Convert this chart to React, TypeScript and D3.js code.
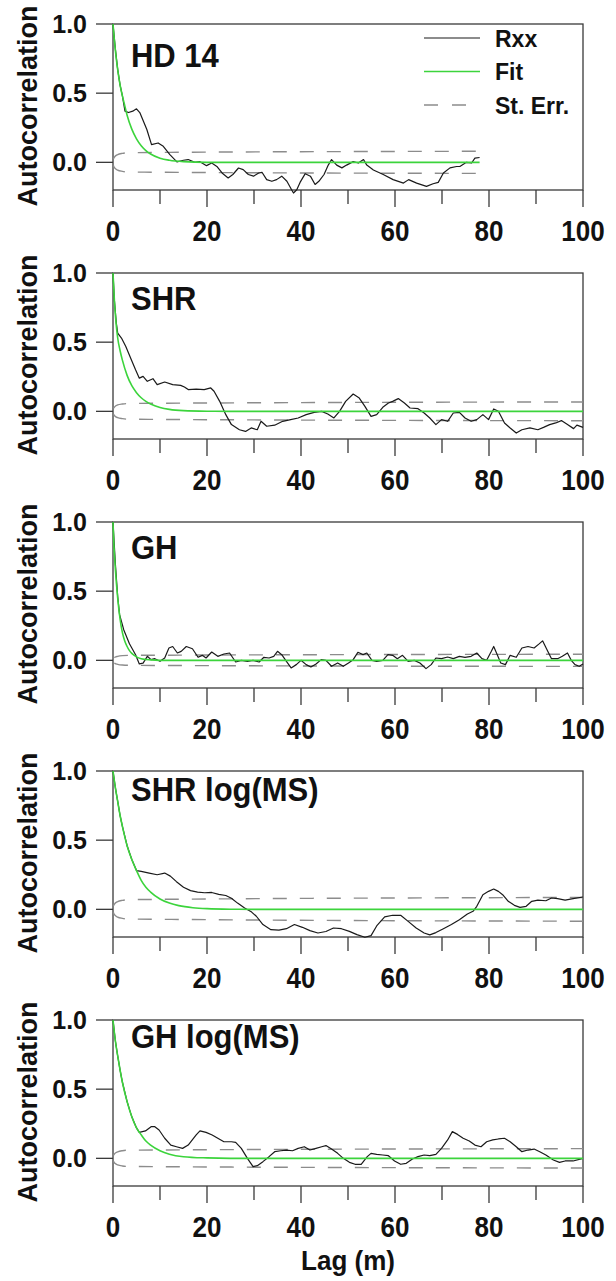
import React from "react";
import * as d3 from "d3";

// ---------- DATA ----------
const panelNames = ["HD 14", "SHR", "GH", "SHR log(MS)", "GH log(MS)"];
const xTicksMajor = [0, 20, 40, 60, 80, 100];
const xTicksMinor = [10, 30, 50, 70, 90];
const yTicks = [0, 0.5, 1.0];
const yTickLabels = ["0.0", "0.5", "1.0"];
const legendLabels = ["Rxx", "Fit", "St. Err."];
const xTitle = "Lag (m)";
const yTitle = "Autocorrelation";

// Rxx (lag, value) per panel
const rxxHD14: [number, number][] = [
  [0, 1], [0.5, 0.82], [1, 0.67], [1.5, 0.56], [2, 0.48], [2.55, 0.37], [3.3, 0.36], [4.2, 0.37], [5.0, 0.387], [5.7, 0.36],
  [7.2, 0.237], [8.2, 0.128], [9.6, 0.14], [10.7, 0.116], [12.1, 0.056], [13.6, 0.003], [15, 0.015], [16, 0.02], [17.4, 0.0],
  [18.5, 0.005], [19.9, -0.024], [21, -0.005], [22.1, -0.03], [23.2, -0.077], [24.5, -0.113], [25.5, -0.088], [26.7, -0.041],
  [27.7, -0.053], [28.8, -0.088], [29.9, -0.1], [31, -0.077], [31.7, -0.072], [32.7, -0.125], [33.8, -0.137], [34.8, -0.125],
  [35.9, -0.1], [37, -0.137], [38, -0.198], [38.4, -0.222], [39.1, -0.198], [39.8, -0.145], [40.9, -0.082], [42, -0.1],
  [43, -0.16], [43.8, -0.137], [44.9, -0.088], [45.8, -0.02], [46.5, 0.02], [47.6, -0.02], [48.7, -0.04], [49.7, -0.02],
  [51.1, 0.005], [52.2, -0.005], [53.3, 0.02], [54, -0.02], [55.4, -0.055], [57.5, -0.088], [59.6, -0.125], [61.8, -0.15],
  [62.9, -0.125], [64.6, -0.15], [66.7, -0.174], [68.1, -0.155], [69.2, -0.145], [70.3, -0.077], [71.7, -0.04], [73.1, -0.03],
  [73.8, -0.03], [75.2, 0.0], [76.3, -0.005], [77, 0.03], [78, 0.035],
];
const rxxSHR: [number, number][] = [
  [0, 1], [0.3, 0.8], [0.7, 0.64], [1.0, 0.566], [1.8, 0.53], [2.7, 0.47], [3.9, 0.373], [4.8, 0.3], [5.6, 0.24], [6.4, 0.253],
  [7.3, 0.217], [8.5, 0.236], [9.4, 0.193], [11, 0.212], [12.7, 0.193], [14.4, 0.188], [15.2, 0.176], [16, 0.157], [17.7, 0.161],
  [19.4, 0.157], [20.8, 0.169], [21.5, 0.145], [22.7, 0.072], [24, -0.024], [25.2, -0.096], [26.9, -0.133], [28.2, -0.145],
  [29.4, -0.12], [30.7, -0.133], [31.5, -0.072], [32.7, -0.108], [34.4, -0.1], [36.1, -0.072], [37.8, -0.06], [39.4, -0.048],
  [41.1, -0.024], [42.8, -0.007], [44.4, 0], [45.7, -0.019], [47, -0.048], [48.2, 0], [49.5, 0.072], [51.1, 0.125], [52.4, 0.096],
  [53.6, 0.036], [54.9, -0.036], [56.1, -0.024], [57.4, 0.029], [58.6, 0.06], [59.5, 0.072], [60.7, 0.092], [62, 0.06],
  [63.2, 0.024], [64.9, 0.019], [66.2, -0.012], [67.4, -0.048], [68.7, -0.096], [69.9, -0.06], [71.2, -0.072], [72.4, -0.012],
  [73.7, -0.007], [74.9, -0.048], [76.2, -0.072], [77.4, -0.06], [78.7, -0.024], [79.9, -0.06], [81, 0.017], [82, 0],
  [83.3, -0.084], [84.5, -0.12], [85.8, -0.157], [87, -0.133], [88.7, -0.12], [90.4, -0.133], [91.6, -0.116], [92.9, -0.096],
  [94.2, -0.084], [95.4, -0.067], [96.7, -0.096], [98, -0.125], [98.7, -0.1], [100, -0.116],
];
const rxxGH: [number, number][] = [
  [0, 1], [0.5, 0.7], [1, 0.46], [1.4, 0.33], [2.3, 0.22], [3.5, 0.12], [4.8, 0.04], [5.6, -0.026], [6.4, -0.02], [7.3, 0.029],
  [8.1, 0.005], [8.9, 0.012], [10, -0.007], [11, 0.017], [11.9, 0.089], [12.7, 0.1], [13.7, 0.053], [14.5, 0.065], [15.6, 0.1],
  [16.9, 0.084], [18.1, 0.022], [19, 0.036], [19.8, 0.017], [21, 0.06], [22.3, 0.029], [23.6, 0.046], [24.8, 0.053], [26.1, -0.012],
  [27.3, 0], [28.6, -0.007], [29.8, 0], [31.1, -0.012], [32.1, 0.022], [33.2, 0.017], [34.2, 0.029], [35, 0.065], [35.9, 0.041],
  [36.9, -0.007], [37.9, -0.055], [39, -0.031], [40, 0], [41.1, -0.031], [42.1, -0.048], [43.2, -0.026], [44.3, 0.005], [45.3, 0],
  [46.5, -0.043], [47.8, -0.019], [49, -0.043], [50.1, -0.019], [51.1, 0.005], [52.1, 0.058], [53.2, 0.041], [54, 0.053],
  [55.1, 0], [56.1, -0.007], [57.4, 0], [58.5, 0.041], [59.5, 0.036], [60.5, 0.012], [61.6, 0.036], [62.8, -0.007], [64.1, 0],
  [65.3, -0.019], [66.6, -0.06], [67.7, -0.031], [68.7, 0.017], [69.9, 0.012], [71.2, 0.024], [72.4, 0.012], [73.7, 0.029],
  [74.9, 0.022], [76.2, 0.029], [77.4, 0.053], [78.5, 0.012], [79.5, 0], [80.5, 0.065], [81, 0.1], [81.6, 0.053], [82.5, -0.019],
  [83.5, -0.031], [84.5, 0.036], [85.8, 0.022], [87, 0.089], [88.3, 0.1], [89.6, 0.089], [90.6, 0.117], [91.4, 0.141],
  [92.5, 0.065], [93.3, 0.012], [94.6, 0.012], [95.6, 0.029], [96.7, 0.053], [97.5, 0], [98.3, -0.031], [99.2, -0.043], [100, -0.026],
];
const rxxSHRlog: [number, number][] = [
  [0, 1], [0.5, 0.88], [1, 0.78], [1.5, 0.68], [2, 0.6], [3, 0.46], [4, 0.36], [5, 0.28], [6, 0.274], [7.7, 0.262], [9.4, 0.25],
  [11, 0.262], [12.2, 0.24], [13.5, 0.2], [15, 0.16], [16.5, 0.135], [18, 0.125], [19.5, 0.12], [21, 0.122], [22.5, 0.108],
  [24, 0.1], [25.2, 0.08], [26.5, 0.045], [28, 0.01], [29.5, -0.02], [30.5, -0.05], [31.9, -0.11], [33.6, -0.147], [35.3, -0.15],
  [36.9, -0.14], [38.6, -0.11], [40.3, -0.13], [41.9, -0.154], [43.6, -0.171], [45.3, -0.16], [46.9, -0.135], [48.6, -0.14],
  [50.3, -0.159], [51.9, -0.183], [53.6, -0.202], [54.9, -0.19], [56.1, -0.12], [57.8, -0.055], [59.5, -0.043], [61.2, -0.043],
  [62.8, -0.087], [64.5, -0.135], [66.2, -0.171], [67.4, -0.185], [68.7, -0.168], [70.3, -0.14], [72, -0.11], [73.7, -0.075],
  [75.4, -0.034], [76.6, -0.014], [77.4, 0.022], [78.7, 0.106], [79.9, 0.13], [81, 0.147], [82, 0.13], [82.9, 0.106],
  [84.1, 0.058], [85.4, 0.029], [86.6, 0.014], [87.9, 0.022], [89.1, 0.058], [90.4, 0.067], [92.1, 0.062], [93.3, 0.082],
  [94.6, 0.077], [96.2, 0.067], [97.9, 0.077], [100, 0.089],
];
const rxxGHlog: [number, number][] = [
  [0, 1], [0.5, 0.85], [1, 0.74], [1.5, 0.64], [2, 0.55], [3, 0.41], [4, 0.3], [5, 0.22], [5.6, 0.188], [6.9, 0.198], [8.1, 0.229],
  [8.9, 0.229], [9.8, 0.205], [11, 0.145], [12.3, 0.096], [13.5, 0.084], [14.8, 0.072], [16, 0.096], [17.7, 0.169], [18.5, 0.198],
  [19.8, 0.188], [21.1, 0.169], [22.3, 0.145], [23.6, 0.12], [25.2, 0.12], [26.1, 0.116], [27.3, 0.072], [28.6, 0], [29.8, -0.06],
  [30.7, -0.053], [31.9, -0.024], [33.2, 0.012], [34.4, 0.048], [35.7, 0.055], [36.9, 0.06], [38.2, 0.055], [39.4, 0.072],
  [40.7, 0.084], [41.9, 0.06], [43.2, 0.072], [44.4, 0.084], [45.3, 0.092], [46.5, 0.067], [47.8, 0.036], [49, 0], [50.3, -0.029],
  [51.5, -0.043], [52.8, -0.043], [54.1, 0.012], [54.9, 0.036], [56.1, 0.029], [57.4, 0.024], [58.6, 0.019], [59.9, -0.019],
  [61.2, -0.043], [62.4, -0.036], [63.7, -0.005], [64.9, 0.012], [66.2, 0.024], [67.4, 0.019], [68.7, 0.029], [69.9, 0.072],
  [71.2, 0.133], [72.2, 0.193], [73.3, 0.173], [74.5, 0.145], [75.8, 0.125], [77, 0.096], [78.3, 0.084], [79.5, 0.12],
  [80.8, 0.133], [82, 0.14], [83.3, 0.145], [84.5, 0.12], [85.8, 0.084], [87, 0.048], [88.3, 0.06], [89.6, 0.067], [90.8, 0.048],
  [92.1, 0.024], [93.7, -0.012], [95, -0.029], [96.2, -0.019], [97.9, -0.019], [100, 0],
];

// Fitted model (lag, value)
const fitHD14: [number, number][] = [
  [0, 1], [0.3, 0.88], [0.7, 0.75], [1, 0.67], [1.5, 0.56], [2, 0.48], [2.5, 0.41], [3, 0.34], [4, 0.24], [5, 0.17], [6, 0.12],
  [7, 0.085], [8, 0.06], [10, 0.03], [12, 0.015], [15, 0.005], [20, 0], [78, 0],
];
const fitSHR: [number, number][] = [
  [0, 1], [0.3, 0.8], [0.7, 0.62], [1, 0.53], [1.5, 0.44], [2, 0.37], [3, 0.26], [4, 0.185], [5, 0.135], [6, 0.098], [7, 0.072],
  [8, 0.053], [10, 0.028], [12, 0.014], [15, 0.005], [20, 0.001], [25, 0], [100, 0],
];
const fitGH: [number, number][] = [
  [0, 1], [0.2, 0.83], [0.5, 0.66], [1, 0.45], [1.5, 0.3], [2, 0.2], [2.5, 0.14], [3, 0.1], [3.5, 0.07], [4, 0.05], [5, 0.025],
  [6, 0.012], [8, 0.003], [10, 0], [100, 0],
];
const fitSHRlog: [number, number][] = [
  [0, 1], [0.5, 0.88], [1, 0.78], [1.5, 0.68], [2, 0.6], [3, 0.46], [4, 0.36], [5, 0.28], [6, 0.21], [7, 0.16], [8, 0.125],
  [10, 0.075], [12, 0.045], [14, 0.027], [17, 0.012], [20, 0.005], [25, 0.001], [30, 0], [100, 0],
];
const fitGHlog: [number, number][] = [
  [0, 1], [0.5, 0.85], [1, 0.74], [1.5, 0.64], [2, 0.55], [3, 0.41], [4, 0.3], [5, 0.22], [6, 0.17], [7, 0.125], [8, 0.095],
  [10, 0.055], [12, 0.03], [15, 0.012], [20, 0.003], [25, 0], [100, 0],
];

// Standard error envelope: lags and values (±)
const seLagsHD14 = [0, 0.1, 0.4, 1, 2, 3.5, 78];
const seValsHD14 = [0, 0.025, 0.042, 0.056, 0.065, 0.07, 0.08];
const seLagsFull = [0, 0.1, 0.4, 1, 2, 3.5, 100];
const seValsSHR = [0, 0.02, 0.034, 0.046, 0.053, 0.057, 0.068];
const seValsGH = [0, 0.013, 0.022, 0.029, 0.034, 0.036, 0.044];
const seValsSHRlog = [0, 0.025, 0.042, 0.056, 0.065, 0.07, 0.086];
const seValsGHlog = [0, 0.021, 0.036, 0.047, 0.055, 0.059, 0.07];

const rxxSeries = [rxxHD14, rxxSHR, rxxGH, rxxSHRlog, rxxGHlog];
const fitSeries = [fitHD14, fitSHR, fitGH, fitSHRlog, fitGHlog];
const seLagSeries = [seLagsHD14, seLagsFull, seLagsFull, seLagsFull, seLagsFull];
const seValSeries = [seValsHD14, seValsSHR, seValsGH, seValsSHRlog, seValsGHlog];

// ---------- LAYOUT ----------
const W = 616;
const H = 1281;
const plotLeft = 113;
const plotRight = 583;
const plotH = 166;
const panelTops = [24, 273, 522, 771, 1020];
const titleDy = [43, 37, 37, 30, 28];
const FONT = "'Liberation Sans', Arial, Helvetica, sans-serif";
const GREEN = "#3cd43c";
const GREY = "#8c8c8c";
const AXIS = "#3a3a3a";
const TXT = "#111";

function SText({
  x,
  y,
  size,
  sy = 1.1,
  anchor = "start",
  children,
}: {
  x: number;
  y: number;
  size: number;
  sy?: number;
  anchor?: string;
  children: React.ReactNode;
}) {
  return (
    <text
      transform={`translate(${x},${y}) scale(1,${sy})`}
      textAnchor={anchor as any}
      fontFamily={FONT}
      fontWeight="bold"
      fontSize={size}
      fill={TXT}
    >
      {children}
    </text>
  );
}

function Panel({ idx }: { idx: number }) {
  const top = panelTops[idx];
  const bottom = top + plotH;
  const x = d3.scaleLinear().domain([0, 100]).range([plotLeft, plotRight]);
  const y = d3.scaleLinear().domain([-0.2, 1.0]).range([bottom, top]);
  const line = d3
    .line<[number, number]>()
    .x((d) => x(d[0]))
    .y((d) => y(d[1]))
    .curve(d3.curveMonotoneX);
  const lin = d3
    .line<[number, number]>()
    .x((d) => x(d[0]))
    .y((d) => y(d[1]))
    .curve(d3.curveLinear);

  const seL = seLagSeries[idx];
  const seV = seValSeries[idx];
  const upper = seL.map((l, i) => [l, seV[i]] as [number, number]);
  const lower = seL.map((l, i) => [l, -seV[i]] as [number, number]);

  return (
    <g>
      <rect x={plotLeft} y={top} width={plotRight - plotLeft} height={plotH} fill="none" stroke={AXIS} strokeWidth={1.3} />
      {yTicks.map((t) => (
        <line key={"yt" + t} x1={plotLeft - 17} x2={plotLeft} y1={y(t)} y2={y(t)} stroke={AXIS} strokeWidth={1.3} />
      ))}
      {yTicks.map((t, i) => (
        <SText key={"yl" + t} x={87} y={y(t) + 8.5} size={25} sy={1.0} anchor="end">
          {yTickLabels[i]}
        </SText>
      ))}
      {xTicksMajor.map((t) => (
        <line key={"xM" + t} x1={x(t)} x2={x(t)} y1={bottom} y2={bottom + 17} stroke={AXIS} strokeWidth={1.3} />
      ))}
      {xTicksMinor.map((t) => (
        <line key={"xm" + t} x1={x(t)} x2={x(t)} y1={bottom} y2={bottom + 14} stroke={AXIS} strokeWidth={1.3} />
      ))}
      {xTicksMajor.map((t) => (
        <SText key={"xl" + t} x={x(t)} y={bottom + 51} size={26} sy={1.13} anchor="middle">
          {String(t)}
        </SText>
      ))}
      <text
        transform={`translate(37,${top + 82}) rotate(-90)`}
        textAnchor="middle"
        fontFamily={FONT}
        fontWeight="bold"
        fontSize={27}
        fill={TXT}
      >
        {yTitle}
      </text>
      <path d={line(upper) || ""} fill="none" stroke={GREY} strokeWidth={1.4} strokeDasharray="14 13" strokeDashoffset={24} />
      <path d={line(lower) || ""} fill="none" stroke={GREY} strokeWidth={1.4} strokeDasharray="14 13" strokeDashoffset={24} />
      <path d={lin(rxxSeries[idx]) || ""} fill="none" stroke="#1a1a1a" strokeWidth={1.2} strokeLinejoin="round" />
      <path d={line(fitSeries[idx]) || ""} fill="none" stroke={GREEN} strokeWidth={1.6} />
      <SText x={131} y={top + titleDy[idx]} size={31} sy={1.05}>
        {panelNames[idx]}
      </SText>
      {idx === 0 && (
        <g>
          {legendLabels.map((lab, i) => {
            const ly = 38 + i * 33.5;
            return (
              <g key={lab}>
                <line
                  x1={424}
                  x2={480}
                  y1={ly}
                  y2={ly}
                  stroke={i === 0 ? "#1a1a1a" : i === 1 ? GREEN : GREY}
                  strokeWidth={i === 0 ? 1.2 : i === 1 ? 1.6 : 1.4}
                  strokeDasharray={i === 2 ? "14 14" : undefined}
                />
                <SText x={495} y={ly + 8.5} size={23} sy={1.05}>
                  {lab}
                </SText>
              </g>
            );
          })}
        </g>
      )}
      {idx === 4 && (
        <SText x={(plotLeft + plotRight) / 2} y={1270} size={26} sy={1.05} anchor="middle">
          {xTitle}
        </SText>
      )}
    </g>
  );
}

export default function App() {
  return (
    <svg
      width={W}
      height={H}
      viewBox={`0 0 ${W} ${H}`}
      style={{ position: "absolute", left: 0, top: 0, background: "#fff" }}
    >
      <rect x={0} y={0} width={W} height={H} fill="#fff" />
      {panelNames.map((_, i) => (
        <Panel key={i} idx={i} />
      ))}
    </svg>
  );
}
